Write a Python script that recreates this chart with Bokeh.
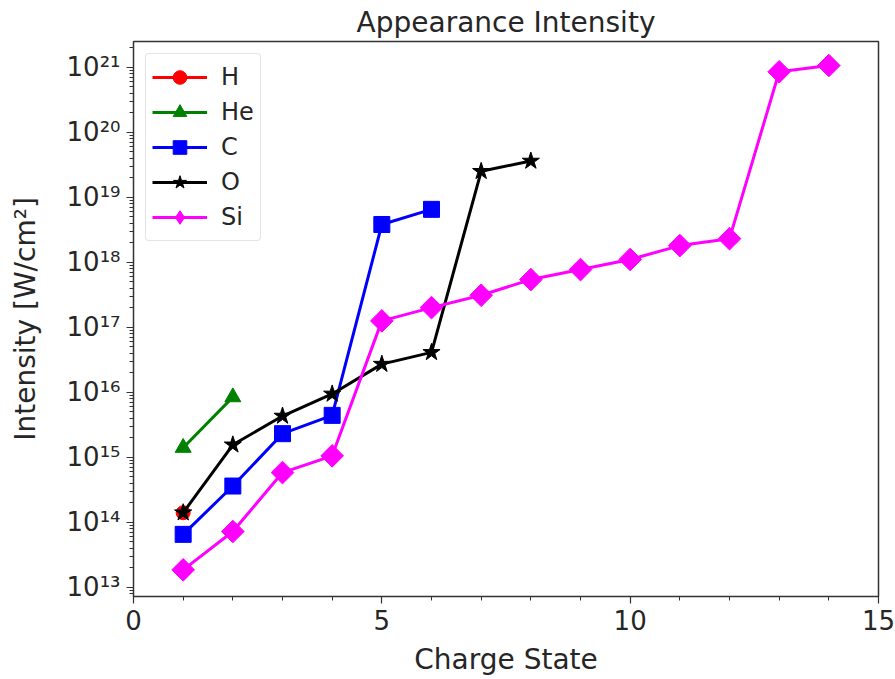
import numpy as np
from bokeh.plotting import figure
from bokeh.models import (Range1d, Legend, LegendItem, FixedTicker,
                          SingleIntervalTicker, CustomJSTickFormatter)
from bokeh.embed import file_html
from bokeh.resources import INLINE

# ---- data ----
h_x = [1]
h_y = [1.4e14]
he_x = [1, 2]
he_y = [1.4e15, 8.4e15]
c_x = [1, 2, 3, 4, 5, 6]
c_y = [6.5e13, 3.6e14, 2.3e15, 4.4e15, 3.8e18, 6.5e18]
o_x = [1, 2, 3, 4, 5, 6, 7, 8]
o_y = [1.4e14, 1.55e15, 4.3e15, 9.4e15, 2.7e16, 4.1e16, 2.5e19, 3.6e19]
si_x = [1, 2, 3, 4, 5, 6, 7, 8, 9, 10, 11, 12, 13, 14]
si_y = [1.85e13, 7.2e13, 5.8e14, 1.05e15, 1.25e17, 2.0e17, 3.1e17, 5.4e17,
        7.7e17, 1.1e18, 1.8e18, 2.3e18, 8.5e20, 1.06e21]
decades = [13, 14, 15, 16, 17, 18, 19, 20, 21]

FONT = "DejaVu Sans"
TXT = "#262626"

p = figure(width=895, height=679, output_backend="svg", toolbar_location=None,
           y_axis_type="log",
           x_range=Range1d(0, 15), y_range=Range1d(10**12.857, 10**21.395),
           min_border_left=133, min_border_right=17, min_border_top=41,
           min_border_bottom=83)
p.title.text = "Appearance Intensity"
p.title.align = "center"
p.title.text_font = FONT
p.title.text_font_size = "28px"
p.title.text_font_style = "normal"
p.title.text_color = TXT
p.title.standoff = 6

p.grid.visible = False
p.outline_line_color = "#333333"
p.outline_line_width = 1.5
p.background_fill_color = "white"
p.border_fill_color = "white"

series = [
    ("H", h_x, h_y, "red", "circle", 14, 0, "circle"),
    ("He", he_x, he_y, "green", "triangle", 16, 0, "triangle"),
    ("C", c_x, c_y, "blue", "square", 16, 0, "square"),
    ("O", o_x, o_y, "black", "star", 18, 0, "star"),
    ("Si", si_x, si_y, "magenta", "square", 16, np.pi / 4, "diamond"),
]
items = []
for name, xs, ys, col, mk, sz, ang, legmk in series:
    lr = p.line(xs, ys, line_color=col, line_width=3)
    if legmk != mk:
        # diamond-shaped glyph for the legend, hidden beneath the rotated squares
        dr = p.scatter(xs, ys, marker=legmk, size=sz - 2, fill_color=col,
                       line_color=col)
    sr = p.scatter(xs, ys, marker=mk, size=sz, angle=ang, fill_color=col,
                   line_color=col)
    if legmk != mk:
        items.append(LegendItem(label=name, renderers=[lr, dr]))
    else:
        items.append(LegendItem(label=name, renderers=[lr, sr]))

legend = Legend(items=items, location="top_left")
legend.label_text_font = FONT
legend.label_text_font_size = "24px"
legend.label_text_color = TXT
legend.glyph_width = 55
legend.glyph_height = 34
legend.spacing = 1
legend.padding = 6
legend.margin = 12
legend.label_standoff = 14
legend.border_line_color = "#cccccc"
legend.border_line_width = 1
legend.border_radius = 4
legend.background_fill_alpha = 0.8
p.add_layout(legend)

# x axis
xa = p.xaxis[0]
xa.ticker = SingleIntervalTicker(interval=5, num_minor_ticks=5)
xa.axis_label = "Charge State"
# y axis
ya = p.yaxis[0]
major = [10.0**d for d in decades]
minor = [k * 10.0**d for d in [decades[0] - 1] + decades for k in range(2, 10)]
ya.ticker = FixedTicker(ticks=major, minor_ticks=minor)
ya.formatter = CustomJSTickFormatter(code="""
const e = Math.round(Math.log10(tick));
const sup = {"0":"\u2070","1":"\u00b9","2":"\u00b2","3":"\u00b3","4":"\u2074",
             "5":"\u2075","6":"\u2076","7":"\u2077","8":"\u2078","9":"\u2079","-":"\u207b"};
return "10" + String(e).split("").map(c => sup[c]).join("");
""")
ya.axis_label = "Intensity [W/cm\u00b2]"

for ax in (xa, ya):
    ax.axis_label_text_font = FONT
    ax.axis_label_text_font_size = "28px"
    ax.axis_label_text_font_style = "normal"
    ax.axis_label_text_color = TXT
    ax.major_label_text_font = FONT
    ax.major_label_text_font_size = "26px"
    ax.major_label_text_color = TXT
    ax.axis_line_color = None
    ax.major_tick_line_color = "#333333"
    ax.minor_tick_line_color = "#333333"
    ax.major_tick_in = 0
    ax.major_tick_out = 7
    ax.minor_tick_in = 0
    ax.minor_tick_out = 4
    ax.major_tick_line_width = 1.2
    ax.minor_tick_line_width = 1
ya.major_label_standoff = 6
xa.major_label_standoff = 6
ya.axis_label_standoff = 22
xa.axis_label_standoff = 10

with open("out.html", "w", encoding="utf-8") as f:
    f.write(file_html(p, INLINE))
